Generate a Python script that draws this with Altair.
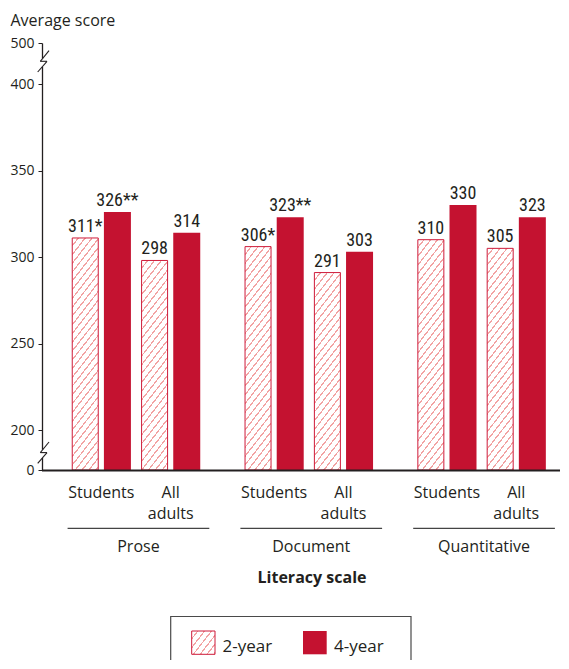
import math
import altair as alt
import pandas as pd

# ---------------- data ----------------
groups = ["Prose", "Document", "Quantitative"]
subgroups = ["Students", "All\nadults"]
types = ["2-year", "4-year"]
scores_2yr = [311, 298, 306, 291, 310, 305]
scores_4yr = [326, 314, 323, 303, 330, 323]
labels_2yr = ["311*", "298", "306*", "291", "310", "305"]
labels_4yr = ["326**", "314", "323**", "303", "330", "323"]
y_ticks = [0, 200, 250, 300, 350, 400, 500]

rows = []
for gi, g in enumerate(groups):
    for si, s in enumerate(subgroups):
        k = gi * 2 + si
        for ti, t in enumerate(types):
            v = scores_2yr[k] if ti == 0 else scores_4yr[k]
            lab = labels_2yr[k] if ti == 0 else labels_4yr[k]
            rows.append({"group": g, "gi": gi, "subgroup": s, "si": si,
                         "type": t, "ti": ti, "k": k, "value": v, "label": lab})
df = pd.DataFrame(rows)
pairs = df[df.ti == 0][["group", "gi", "subgroup", "si"]].reset_index(drop=True)
grp = pd.DataFrame({"group": groups, "gi": list(range(len(groups)))})
one = pd.DataFrame({"d": [0]})

# ---------------- layout / style ----------------
W, H = 518, 427
RED = "#C41230"
EDGE = "#CE1B3A"
INK = "#231F20"
FONT = "Open Sans"
NUMFONT = "Liberation Sans Narrow, Roboto Condensed, Roboto, sans-serif"
BAR_W = 26

POS = "39 + datum.gi*176.2 + datum.si*70.7 + datum.ti*32.8"
PAIR = "39 + datum.gi*176.2 + datum.si*70.7 + 16.4"

ydom = [0, 200, 400, 500]
yrng = [H, H - 40, 41, 0]


def ypix(v):
    # pixel position of a value on the piecewise scale (for hatch geometry)
    for i in range(len(ydom) - 1):
        if ydom[i] <= v <= ydom[i + 1]:
            f = (v - ydom[i]) / (ydom[i + 1] - ydom[i])
            return yrng[i] + f * (yrng[i + 1] - yrng[i])
    return 0


def hatch(w, h, angle=52.0, period=5.4, lw=1.2, bg="#FFFFFF", fg="#F2A3A3"):
    a = math.radians(angle)
    sa, ca = math.sin(a), math.cos(a)
    L = w * sa + h * ca
    kx, ky = w * sa / L, h * ca / L
    k2 = kx * kx + ky * ky
    p, q = period / L, lw / L
    stops = []
    t = 0.0
    while t < 1.0:
        a1 = round(min(t + p - q, 1.0), 5)
        a2 = round(min(t + p, 1.0), 5)
        stops += [{"offset": round(t, 5), "color": bg}, {"offset": a1, "color": bg},
                  {"offset": a1, "color": fg}, {"offset": a2, "color": fg}]
        t = t + p
    return {"gradient": "linear", "x1": 0, "y1": 0,
            "x2": kx / k2, "y2": ky / k2, "stops": stops}


xscale = alt.Scale(domain=[0, W], nice=False, zero=False)
yscale = alt.Scale(domain=ydom, range=yrng, nice=False, zero=False)
yaxis = alt.Axis(values=y_ticks, title="Average score", titleAngle=0,
                 titleAlign="left", titleBaseline="alphabetic", titleX=-32,
                 titleY=-18, titleFont=FONT, titleFontSize=16,
                 titleFontWeight="normal", titleColor=INK, labelFont=FONT,
                 labelFontSize=14, labelColor=INK, labelPadding=4, tickSize=4,
                 tickColor=INK, tickWidth=1, domainColor=INK, domainWidth=1.3,
                 grid=False, labelFlush=False, labelOverlap=False)

X = alt.X("pos:Q", scale=xscale, axis=None)
Y = alt.Y("value:Q", scale=yscale, axis=yaxis)

base = alt.Chart(df).transform_calculate(pos=POS)

layers = []

# 4-year solid bars
layers.append(base.transform_filter("datum.ti == 1").mark_bar(
    fill=RED, size=BAR_W + 1, orient="vertical").encode(x=X, y=Y, y2=alt.datum(0)))

# 2-year hatched bars (one gradient per bar so the hatch keeps its angle)
for k in range(len(scores_2yr)):
    h = H - ypix(scores_2yr[k])
    layers.append(base.transform_filter(f"datum.ti == 0 && datum.k == {k}").mark_bar(
        fill=hatch(BAR_W, h), stroke=EDGE, strokeWidth=1, size=BAR_W,
        orient="vertical").encode(x=X, y=Y, y2=alt.datum(0)))

# value labels
layers.append(base.mark_text(font=NUMFONT, fontSize=18, color=INK, dy=-6,
                             baseline="alphabetic", align="center").encode(
    x=X, y=Y, text="label:N"))

# baseline
layers.append(alt.Chart(one).mark_rule(color=INK, strokeWidth=2.2).encode(
    x=alt.value(0), x2=alt.value(W), y=alt.value(H + 0.5)))

# subgroup labels
layers.append(alt.Chart(pairs).transform_calculate(pos=PAIR, ti="0").mark_text(
    font=FONT, fontSize=16, color=INK, lineBreak="\n", lineHeight=21,
    baseline="alphabetic", align="center").encode(
    x=X, y=alt.value(454.7), text="subgroup:N"))

# group underline
layers.append(alt.Chart(grp).transform_calculate(
    pos="39 + datum.gi*176.2 - 18",
    pos2="39 + datum.gi*176.2 + 70.7 + 32.8 + 23").mark_rule(
    color="#444444", strokeWidth=1.2).encode(
    x=X, x2="pos2:Q", y=alt.value(485.3)))

# group labels
layers.append(alt.Chart(grp).transform_calculate(
    pos="39 + datum.gi*176.2 + 54.25").mark_text(
    font=FONT, fontSize=16, color=INK, baseline="alphabetic", align="center").encode(
    x=X, y=alt.value(509), text="group:N"))

# x title
layers.append(alt.Chart(one).mark_text(
    text="Literacy scale", font=FONT, fontSize=16, fontWeight="bold", color=INK,
    baseline="alphabetic", align="center").encode(x=alt.value(270), y=alt.value(540)))

# axis breaks
zig = [(7, 0), (-1.7, 10.6), (5, 10.6), (-4.3, 21.3)]
for y0, (c1, c2) in [(7.7, (15.4, 23.7)), (399.0, (406.7, 415.0))]:
    layers.append(alt.Chart(one).mark_rect(fill="white").encode(
        x=alt.value(-2), x2=alt.value(3), y=alt.value(c1), y2=alt.value(c2)))
    for (xa, ya), (xb, yb) in zip(zig[:-1], zig[1:]):
        layers.append(alt.Chart(one).mark_rule(color=INK, strokeWidth=1.1).encode(
            x=alt.value(xa), y=alt.value(y0 + ya), x2=alt.value(xb), y2=alt.value(y0 + yb)))

# legend
LY0, LY1 = 588, 611.3
layers.append(alt.Chart(one).mark_rect(fill="white", fillOpacity=0, stroke="#4A4A4A",
                                       strokeWidth=1.2).encode(
    x=alt.value(128.7), x2=alt.value(369), y=alt.value(573.5), y2=alt.value(660)))
layers.append(alt.Chart(one).mark_rect(fill=hatch(23.3, 23.3), stroke=EDGE,
                                       strokeWidth=1).encode(
    x=alt.value(149.7), x2=alt.value(173), y=alt.value(LY0), y2=alt.value(LY1)))
layers.append(alt.Chart(one).mark_rect(fill=RED).encode(
    x=alt.value(261), x2=alt.value(284.7), y=alt.value(LY0), y2=alt.value(LY1)))
for lx, txt in [(180.5, types[0]), (292, types[1])]:
    layers.append(alt.Chart(one).mark_text(
        text=txt, font=FONT, fontSize=17, color=INK, align="left",
        baseline="alphabetic").encode(x=alt.value(lx), y=alt.value(608.5)))

chart = alt.layer(*layers).properties(
    width=W, height=H,
    padding={"left": 34, "top": 35, "right": 0, "bottom": 190},
    autosize=alt.AutoSizeParams(type="none"),
).configure_view(stroke=None)

chart.save("out.html", embed_options={"renderer": "svg", "actions": False})
